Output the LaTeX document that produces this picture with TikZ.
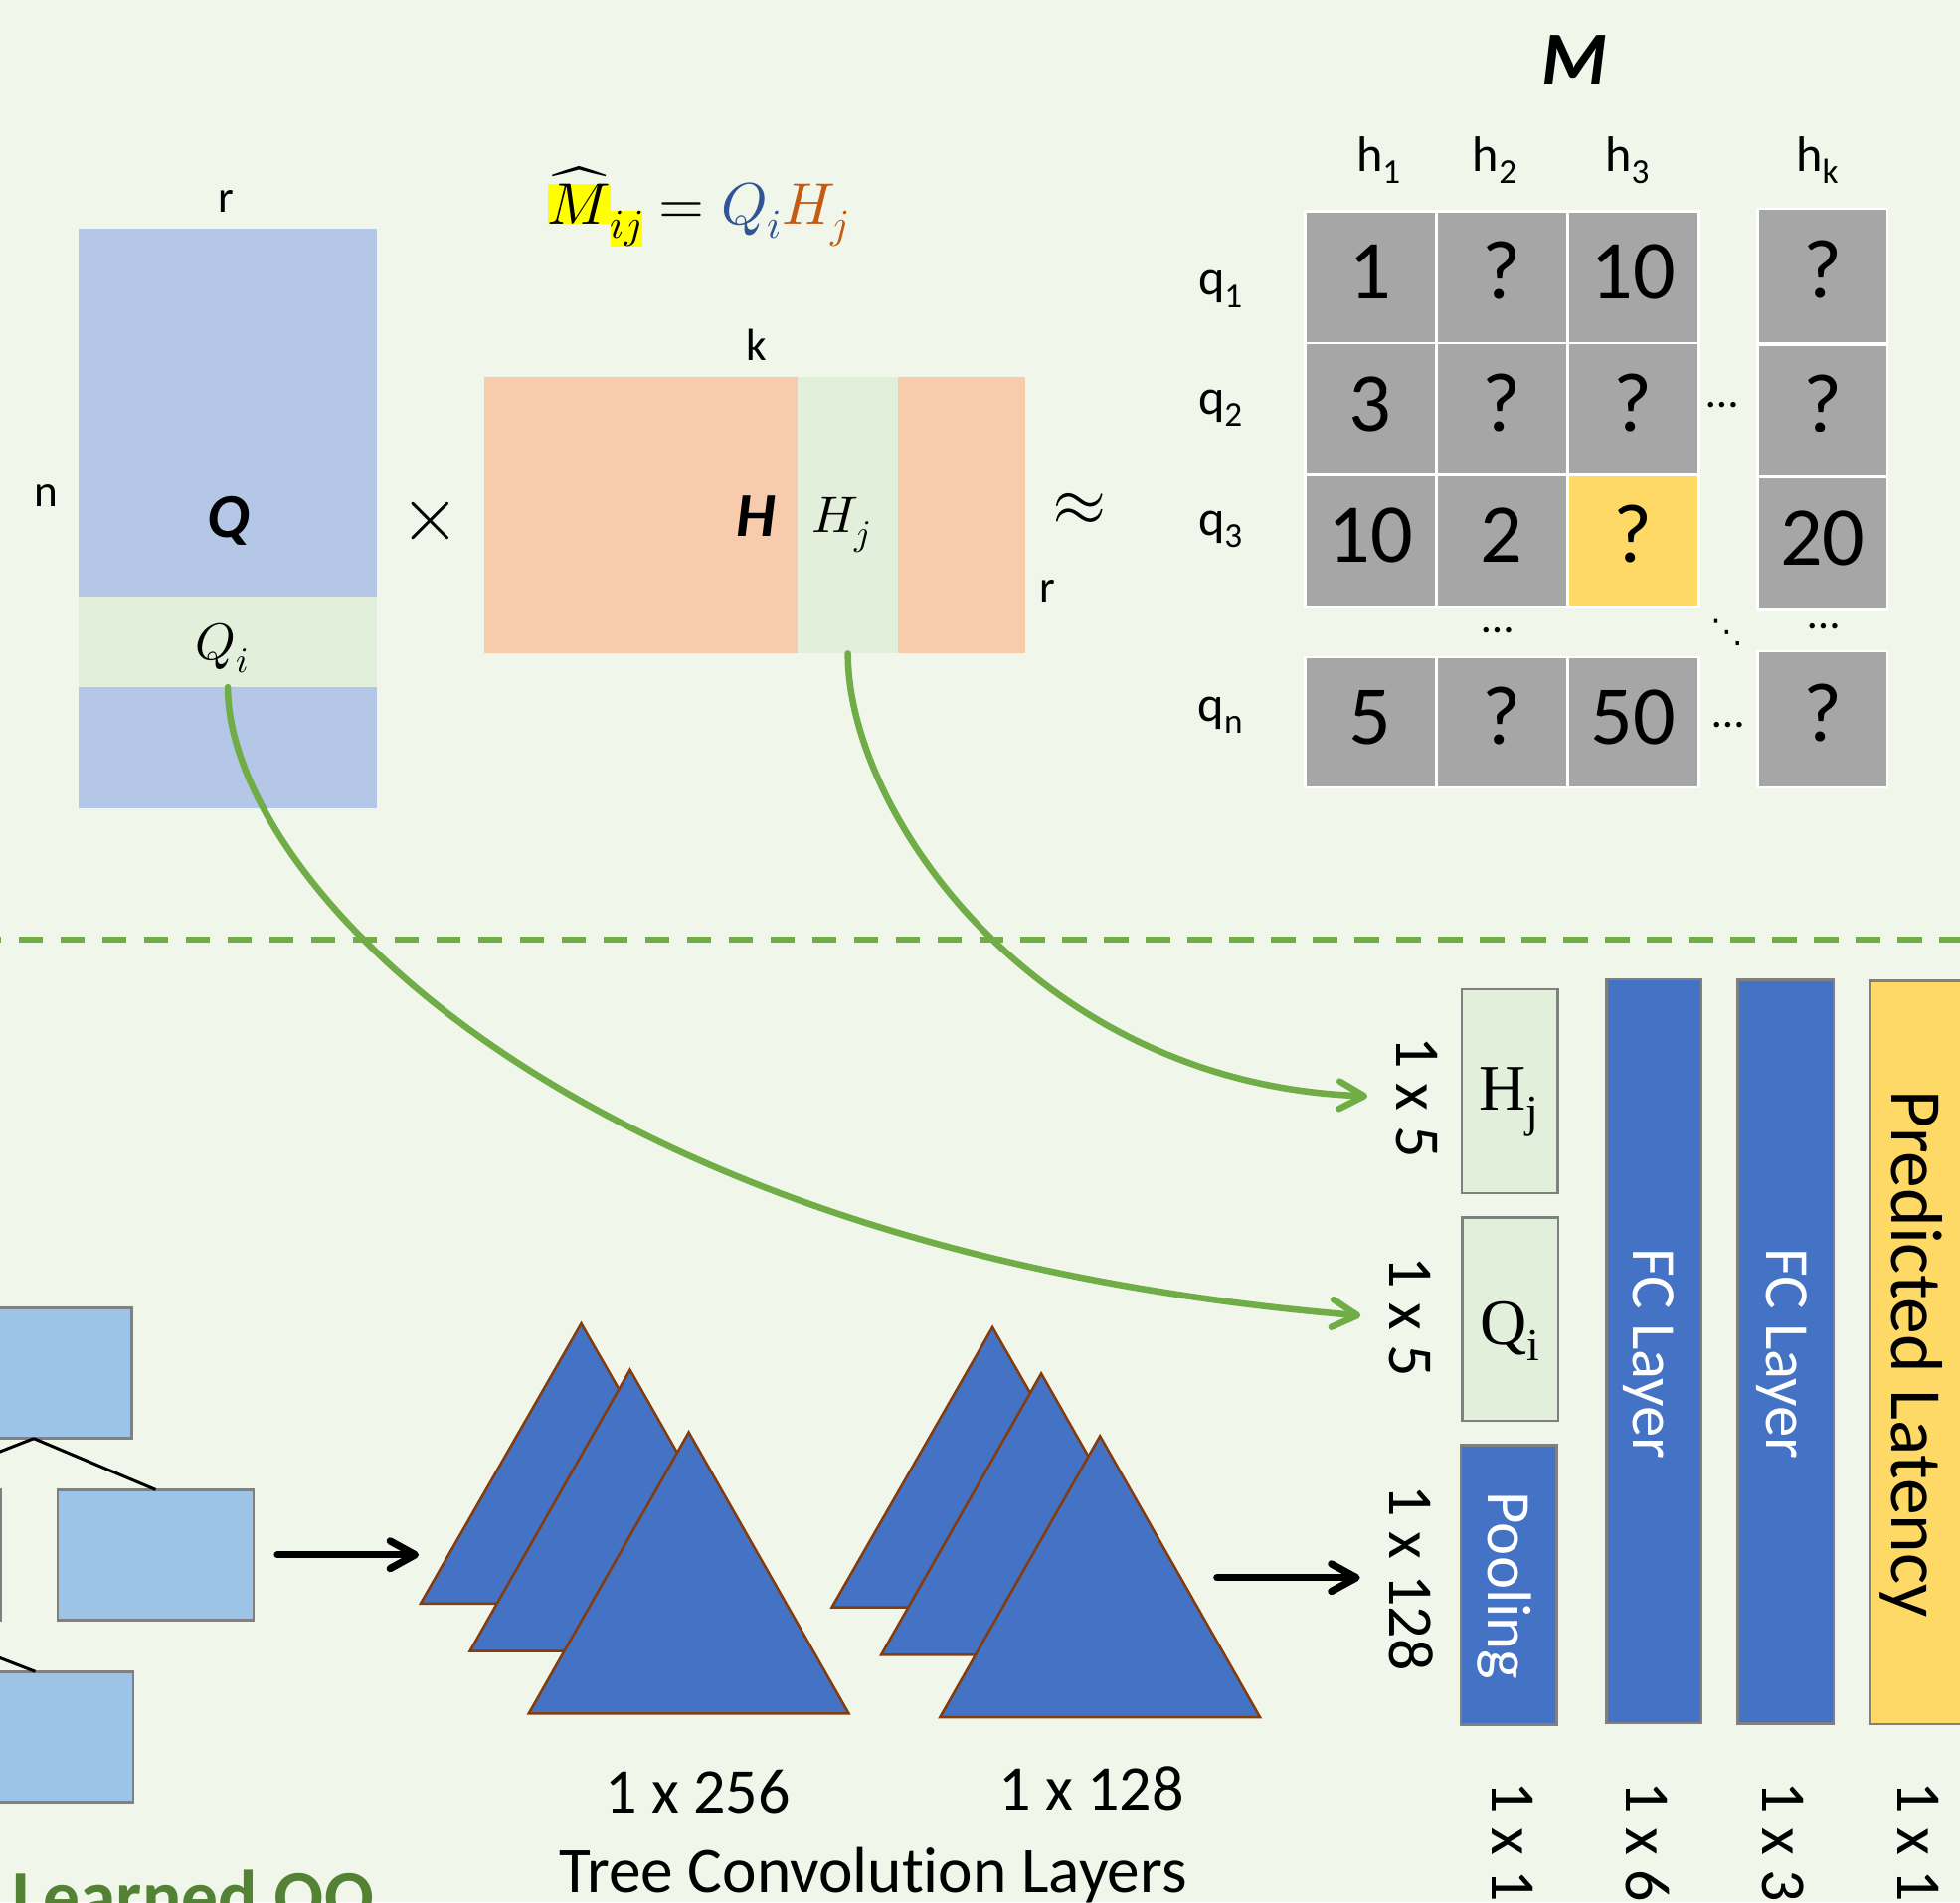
\documentclass[tikz,border=0pt]{standalone}
\usepackage{fontspec}
\usepackage{unicode-math}
\setmainfont{Carlito}[Ligatures=CommonOff]
\setmathfont{Latin Modern Math}
\newfontfamily\tnr{Liberation Serif}
\newfontfamily\djv{DejaVu Sans}
\usetikzlibrary{arrows.meta}
\definecolor{bg}{RGB}{240,247,234}
\definecolor{qblue}{RGB}{180,199,231}
\definecolor{horange}{RGB}{248,203,173}
\definecolor{band}{RGB}{226,239,218}
\definecolor{cellgrey}{RGB}{166,166,166}
\definecolor{cellyellow}{RGB}{255,217,102}
\definecolor{treeblue}{RGB}{157,195,230}
\definecolor{darkblue}{RGB}{68,114,196}
\definecolor{tribrown}{RGB}{132,60,12}
\definecolor{lgreen}{RGB}{112,173,71}
\definecolor{dgreen}{RGB}{84,130,53}
\definecolor{fblue}{RGB}{47,85,151}
\definecolor{forange}{RGB}{197,90,17}
\definecolor{hlyellow}{RGB}{255,255,0}
\definecolor{boxgrey}{RGB}{128,128,128}
\newcommand{\fs}[1]{\fontsize{#1}{#1}\selectfont}
\begin{document}
\begin{tikzpicture}[x=1pt,y=-1pt,
  every node/.style={inner sep=0pt,outer sep=0pt},
  cell/.style={fill=cellgrey,draw=white,line width=2pt,minimum width=105pt,minimum height=105.5pt,text height=42.5pt,text depth=8pt,font=\fs{67}},
  plainrect/.style={draw=none,anchor=north west},
  lbl/.style={font=\fs{36},anchor=base},
  hq/.style={font=\fs{40},anchor=base},
  dots/.style={font=\fs{36},anchor=base},
  vbox/.style={draw=boxgrey,line width=2pt,anchor=north west},
  treebox/.style={fill=treeblue,draw=boxgrey,line width=2pt,minimum width=157pt,minimum height=104.4pt},
  edge/.style={draw=black,line width=2.4pt},
  tri/.style={fill=darkblue,draw=tribrown,line width=2pt},
  garrow/.style={draw=lgreen,line width=5.2pt,line cap=round,-{Straight Barb[length=20pt,width=22pt,round]}},
  barrow/.style={draw=black,line width=5.8pt,line cap=round,-{Straight Barb[length=20pt,width=22pt,round]}},
  vtext/.style={rotate=-90,anchor=base,font=\fs{51}}]
\useasboundingbox (0,0) rectangle (1568,1522);
\clip (0,0) rectangle (1568,1522);
\fill[bg] (0,0) rectangle (1568,1522);

% ---------- Q matrix ----------
\node[plainrect,fill=qblue,minimum width=238.5pt,minimum height=464pt] (Qm) at (63,182.8) {};
\node[plainrect,fill=band,minimum width=238.5pt,minimum height=72.5pt] (Qi) at (63,477.3) {};
\node[font=\fs{50}\bfseries\itshape,anchor=base] (Qlab) at (183,430) {Q};
\node[font=\fs{41},anchor=base] (Qilab) at (178,528) {$Q_i$};
\node[lbl] (rlab) at (181,170) {r};
\node[lbl] (nlab) at (37,405) {n};
\node[font=\fs{62}] (times) at (344,417) {$\times$};

% ---------- H matrix ----------
\node[plainrect,fill=horange,minimum width=432.4pt,minimum height=221.6pt] (Hm) at (387.6,301.4) {};
\node[plainrect,fill=band,minimum width=80.1pt,minimum height=221.6pt] (Hj) at (638.3,301.4) {};
\node[font=\fs{50}\bfseries\itshape,anchor=base] (Hlab) at (604.5,429) {H};
\node[font=\fs{41},anchor=base] (Hjlab) at (673,426) {$H_j$};
\node[lbl] (klab) at (605,288) {k};
\node[lbl] (r2lab) at (838,482) {r};
\node[font=\fs{56}] (approx) at (864,408) {$\approx$};

% ---------- formula ----------
\node[font=\fs{47},anchor=base west] (formula) at (438,179)
  {\setlength{\fboxsep}{0pt}$\widehat{\colorbox{hlyellow}{$M$}}_{\colorbox{hlyellow}{$\scriptstyle ij$}} = {\color{fblue}Q_i}{\color{forange}H_j}$};

% ---------- M matrix ----------
\node[font=\fs{60}\bfseries\itshape,anchor=base] (Mlab) at (1260,67) {M};
\node[hq] (h1) at (1103,137) {h\textsubscript{1}};
\node[hq] (h2) at (1196,137) {h\textsubscript{2}};
\node[hq] (h3) at (1302,137) {h\textsubscript{3}};
\node[hq] (hk) at (1454,137) {h\textsubscript{k}};
\node[hq] (q1) at (976.5,236) {q\textsubscript{1}};
\node[hq] (q2) at (976.5,331) {q\textsubscript{2}};
\node[hq] (q3) at (976.5,428) {q\textsubscript{3}};
\node[hq] (qn) at (976.5,577) {q\textsubscript{n}};

\node[cell] (m11) at (1096.5,221.75) {1};
\node[cell] (m12) at (1201.5,221.75) {?};
\node[cell] (m13) at (1306.5,221.75) {10};
\node[cell,minimum width=104pt,minimum height=108pt] (m1k) at (1458,221) {?};
\node[cell] (m21) at (1096.5,327.25) {3};
\node[cell] (m22) at (1201.5,327.25) {?};
\node[cell] (m23) at (1306.5,327.25) {?};
\node[cell,minimum width=104pt] (m2k) at (1458,328.75) {?};
\node[cell] (m31) at (1096.5,433) {10};
\node[cell] (m32) at (1201.5,433) {2};
\node[cell,fill=cellyellow] (m33) at (1306.5,433) {?};
\node[cell,minimum width=104pt,minimum height=106pt] (m3k) at (1458,435) {20};
\node[cell,minimum height=104pt] (mn1) at (1096.5,578) {5};
\node[cell,minimum height=104pt] (mn2) at (1201.5,578) {?};
\node[cell,minimum height=104pt] (mn3) at (1306.5,578) {50};
\node[cell,minimum width=104pt,minimum height=109pt] (mnk) at (1458,575.5) {?};

\node[dots] (dA) at (1378,325.5) {…};
\node[dots] (dB) at (1198,506.5) {…};
\node[dots] (dC) at (1459,503) {…};
\node[dots] (dD) at (1382.5,582) {…};
\node[font=\djv\fs{26}] (dE) at (1381.5,506) {⋱};

% ---------- dashed separator ----------
\coordinate (dl) at (-18.4,751.8);
\coordinate (dr) at (1580,751.8);
\draw[lgreen,line width=4.2pt,dash pattern=on 19.5pt off 13.9pt] (dl) -- (dr);

% ---------- plan tree ----------
\node[treebox,anchor=north east] (tA) at (105.5,1046.5) {};
\node[treebox,anchor=north west] (tB) at (46,1192) {};
\node[treebox,anchor=north east] (tD) at (0.5,1192) {};
\node[treebox,anchor=north east] (tC) at (106.7,1337.5) {};
\draw[edge] (tA.south) -- (tB.north);
\draw[edge] (tA.south) -- (tD.north);
\draw[edge] (tD.south) -- (tC.north);

% ---------- tree convolution layers ----------
\foreach \dx/\dy in {0/0,329/3}{
  \begin{scope}[shift={(\dx,\dy)}]
    \draw[tri] (465,1059) -- (593.5,1283) -- (336.5,1283) -- cycle;
    \draw[tri] (504,1096) -- (632,1321) -- (376,1321) -- cycle;
    \draw[tri] (551,1146) -- (679,1371) -- (423,1371) -- cycle;
  \end{scope}
}
\node[font=\fs{51},anchor=base] (t256) at (558,1450.4) {1 x 256};
\node[font=\fs{51},anchor=base] (t128) at (873,1448) {1 x 128};
\node[font=\fs{52},anchor=base] (tcl) at (698.5,1514) {Tree Convolution Layers};
\node[font=\fs{58.5}\bfseries,text=dgreen,anchor=base west] (lqo) at (10,1537.7) {Learned QO};

\coordinate (a1s) at (222,1244);
\coordinate (a1e) at (335,1244);
\draw[barrow] (a1s) -- (a1e);
\coordinate (a2s) at (973.6,1262.3);
\coordinate (a2e) at (1088,1262.3);
\draw[barrow] (a2s) -- (a2e);

% ---------- right column ----------
\node[vbox,fill=band,minimum width=76.5pt,minimum height=163.2pt] (Hjbox) at (1169.5,791.4) {};
\node[vbox,fill=band,minimum width=76.6pt,minimum height=163pt] (Qibox) at (1170,974) {};
\node[vbox,fill=darkblue,minimum width=76.8pt,minimum height=223.5pt] (Pool) at (1168.5,1156.5) {};
\node[vbox,fill=darkblue,minimum width=76pt,minimum height=595pt] (FC1) at (1285,783.6) {};
\node[vbox,fill=darkblue,minimum width=77pt,minimum height=595pt] (FC2) at (1390,784) {};
\node[vbox,fill=cellyellow,minimum width=78pt,minimum height=594.8pt] (PL) at (1495.7,784.7) {};

\node[font=\tnr\fs{52},anchor=base] (Hjt) at (1207.5,888.6) {H\textsubscript{j}};
\node[font=\tnr\fs{52},anchor=base] (Qit) at (1208,1075.6) {Q\textsubscript{i}};
\node[vtext,text=white,font=\fs{50}] (poolt) at (1190.5,1269) {Pooling};
\node[vtext,text=white,font=\fs{50}] (fc1t) at (1307,1083) {FC Layer};
\node[vtext,text=white,font=\fs{50}] (fc2t) at (1413,1083) {FC Layer};
\node[vtext,font=\fs{58.5}] (plt) at (1513.5,1083) {Predicted Latency};

\node[vtext] (s1) at (1117,878) {1 x 5};
\node[vtext] (s2) at (1112,1053.5) {1 x 5};
\node[vtext] (s3) at (1112,1262.7) {1 x 128};
\node[vtext,anchor=base west] (b1) at (1194,1425) {1 x 1};
\node[vtext,anchor=base west] (b2) at (1301,1425) {1 x 6};
\node[vtext,anchor=base west] (b3) at (1410,1425) {1 x 3};
\node[vtext,anchor=base west] (b4) at (1518,1425) {1 x 1};

% ---------- green connectors ----------
\coordinate (QiTip) at (1088.5,1052.7);
\coordinate (HjTip) at (1094,877);
\draw[garrow] (Qi.south) .. controls (182,700) and (450,1000) .. (QiTip);
\draw[garrow] (Hj.south) .. controls (678,650) and (830,868) .. (HjTip);
\end{tikzpicture}
\end{document}
